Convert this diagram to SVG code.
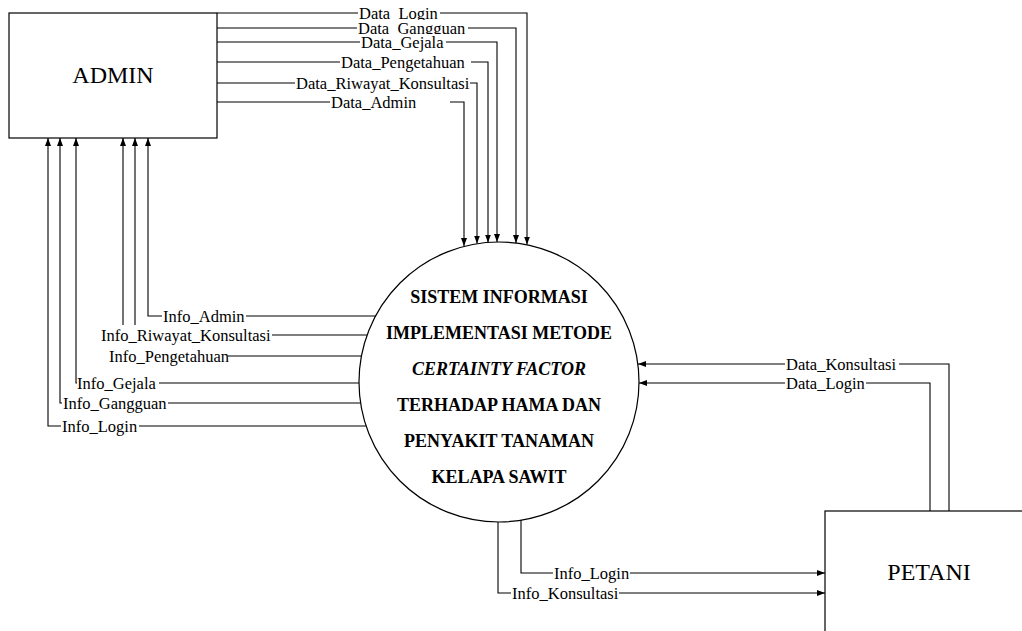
<svg xmlns="http://www.w3.org/2000/svg" width="1022" height="631" viewBox="0 0 1022 631">
<style>
.box{fill:#fff;stroke:#000;stroke-width:1.2}
.ent{font-family:"Liberation Serif","Times New Roman",serif;font-size:24px;fill:#000;text-anchor:middle}
.proc{font-family:"Liberation Serif","Times New Roman",serif;font-size:18px;font-weight:bold;fill:#000;text-anchor:middle}
.lbl{font-family:"Liberation Serif","Times New Roman",serif;font-size:16.5px;fill:#000}
.bg{fill:#fff;stroke:none}
.con{fill:none;stroke:#000;stroke-width:1.1}
</style>
<defs>
<marker id="ah" viewBox="0 0 8 6" refX="8" refY="3" markerWidth="8" markerHeight="6" markerUnits="userSpaceOnUse" orient="auto">
<path d="M0,0 L8,3 L0,6 z" fill="#000"/>
</marker>
</defs>
<rect width="1022" height="631" fill="#fff"/>

<g id="connectors">
<path class="con" marker-end="url(#ah)" d="M217,13 H527 V244.5"/>
<path class="con" marker-end="url(#ah)" d="M217,28 H516 V243"/>
<path class="con" marker-end="url(#ah)" d="M217,42 H497 V242"/>
<path class="con" marker-end="url(#ah)" d="M217,62 H488 V242.5"/>
<path class="con" marker-end="url(#ah)" d="M217,83 H477 V243.5"/>
<path class="con" marker-end="url(#ah)" d="M217,102 H464 V246"/>

<path class="con" marker-end="url(#ah)" d="M376,316 H148 V138"/>
<path class="con" marker-end="url(#ah)" d="M367,335 H135 V138"/>
<path class="con" marker-end="url(#ah)" d="M361,356 H123 V138"/>
<path class="con" marker-end="url(#ah)" d="M359,383 H76 V138"/>
<path class="con" marker-end="url(#ah)" d="M361,403 H60 V138"/>
<path class="con" marker-end="url(#ah)" d="M366,426 H48 V138"/>

<path class="con" marker-end="url(#ah)" d="M949,511 V364 H638"/>
<path class="con" marker-end="url(#ah)" d="M930,511 V383 H639"/>

<path class="con" marker-end="url(#ah)" d="M521,520 V573 H825"/>
<path class="con" marker-end="url(#ah)" d="M498,522 V593 H825"/>

<g id="labels">
<rect class="bg" x="358" y="5" width="82" height="16"/><text class="lbl" x="359" y="18.5">Data_Login</text>
<rect class="bg" x="357" y="20" width="111" height="16"/><text class="lbl" x="358" y="33.5">Data_Gangguan</text>
<rect class="bg" x="360" y="34" width="86" height="16"/><text class="lbl" x="361" y="47.5">Data_Gejala</text>
<rect class="bg" x="340" y="54" width="131" height="16"/><text class="lbl" x="341" y="67.5">Data_Pengetahuan</text>
<rect class="bg" x="295" y="75" width="175" height="16"/><text class="lbl" x="296" y="88.5">Data_Riwayat_Konsultasi</text>
<rect class="bg" x="330" y="94" width="120" height="16"/><text class="lbl" x="331" y="107.5">Data_Admin</text>

<rect class="bg" x="162" y="308" width="84" height="16"/><text class="lbl" x="163" y="321.5">Info_Admin</text>
<rect class="bg" x="100" y="325" width="172" height="21"/><text class="lbl" x="101" y="340.5">Info_Riwayat_Konsultasi</text>
<rect class="bg" x="108" y="345" width="120" height="20"/><text class="lbl" x="109" y="361.5">Info_Pengetahuan</text>
<rect class="bg" x="77" y="375" width="82" height="16"/><text class="lbl" x="77" y="388.5">Info_Gejala</text>
<rect class="bg" x="62" y="395" width="106" height="16"/><text class="lbl" x="63" y="408.5">Info_Gangguan</text>
<rect class="bg" x="61" y="418" width="78" height="16"/><text class="lbl" x="62" y="431.5">Info_Login</text>

<rect class="bg" x="785" y="356" width="114" height="16"/><text class="lbl" x="786" y="369.5">Data_Konsultasi</text>
<rect class="bg" x="785" y="375" width="81" height="16"/><text class="lbl" x="786" y="388.5">Data_Login</text>

<rect class="bg" x="553" y="565" width="77" height="16"/><text class="lbl" x="554" y="578.5">Info_Login</text>
<rect class="bg" x="511" y="585" width="108" height="16"/><text class="lbl" x="512" y="598.5">Info_Konsultasi</text>
</g>
</g>

<g id="admin">
<rect class="box" x="9" y="13" width="208" height="125"/>
<text class="ent" x="113" y="83">ADMIN</text>
</g>

<g id="sistem">
<circle class="box" cx="499" cy="382" r="140"/>
<text class="proc" x="499" y="303">SISTEM INFORMASI</text>
<text class="proc" x="499" y="339">IMPLEMENTASI METODE</text>
<text class="proc" x="499" y="375" font-style="italic">CERTAINTY FACTOR</text>
<text class="proc" x="499" y="411">TERHADAP HAMA DAN</text>
<text class="proc" x="499" y="447">PENYAKIT TANAMAN</text>
<text class="proc" x="499" y="483">KELAPA SAWIT</text>
</g>

<g id="petani">
<rect class="box" x="825" y="511" width="210" height="130"/>
<text class="ent" x="929" y="580">PETANI</text>
</g>
</svg>
